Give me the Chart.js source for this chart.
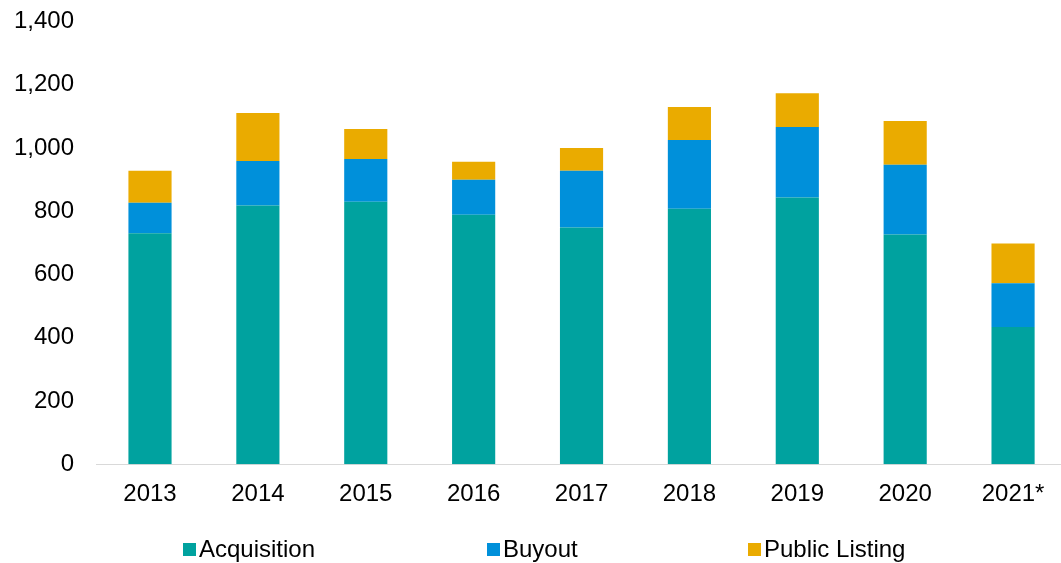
<!DOCTYPE html>
<html>
<head>
<meta charset="utf-8">
<script src="https://cdn.jsdelivr.net/npm/chart.js@4"></script>
<style>
  html, body { margin: 0; padding: 0; background: #ffffff; }
  .wrap { position: relative; width: 1061px; height: 563px; overflow: hidden; }
  #dealChart { position: absolute; left: 0; top: -15px; }
  .legend {
    position: absolute; left: 0; top: 535px; width: 1061px; height: 28px;
    font-family: "Liberation Sans", Arial, sans-serif; font-size: 24px; color: #000;
  }
  .legend span { position: absolute; top: 0; display: flex; align-items: center; white-space: nowrap; line-height: 28px; }
  .legend i { display: inline-block; width: 13px; height: 13px; margin-right: 3px; }
</style>
</head>
<body>
<div class="wrap">
  <canvas id="dealChart" width="1067" height="563"></canvas>
  <div class="legend" id="legend"></div>
</div>
<script>
// 연도
const years = ["2013", "2014", "2015", "2016", "2017", "2018", "2019", "2020", "2021*"];

// 유형별 건수
const acquisition = [730, 818, 830, 789, 748, 808, 843, 726, 434];
const buyout = [97, 141, 135, 110, 180, 217, 223, 221, 138];
const publicListing = [101, 151, 95, 57, 72, 104, 107, 138, 126];

const seriesNames = ["Acquisition", "Buyout", "Public Listing"];
const seriesColors = ["#00A29F", "#0090DA", "#EAAB00"];

const yTicks = [0, 200, 400, 600, 800, 1000, 1200, 1400];

const FONT = "'Liberation Sans', Arial, sans-serif";

function createDealChart() {
  const ctx = document.getElementById("dealChart");
  const values = [acquisition, buyout, publicListing];

  new Chart(ctx, {
    type: "bar",
    data: {
      labels: years,
      datasets: seriesNames.map((name, i) => ({
        label: name,
        data: values[i],
        backgroundColor: seriesColors[i],
        borderWidth: 0,
        barPercentage: 0.4,
        categoryPercentage: 1.0
      }))
    },
    options: {
      responsive: false,
      animation: false,
      layout: {
        padding: { top: 0, left: -8, right: 0, bottom: 23 }
      },
      plugins: {
        legend: { display: false },
        tooltip: { enabled: false }
      },
      scales: {
        x: {
          stacked: true,
          grid: { display: false, drawTicks: false },
          border: { display: true, color: "#d9d9d9", width: 1 },
          ticks: {
            color: "#000",
            padding: 16,
            maxRotation: 0,
            font: { family: FONT, size: 24 }
          }
        },
        y: {
          stacked: true,
          min: yTicks[0],
          max: yTicks[yTicks.length - 1],
          afterBuildTicks: (axis) => {
            axis.ticks = yTicks.map((v) => ({ value: v }));
          },
          grid: { display: false, drawTicks: false },
          border: { display: false },
          ticks: {
            color: "#000",
            padding: 22,
            font: { family: FONT, size: 24 },
            callback: (v) => v.toLocaleString("en-US")
          }
        }
      }
    }
  });
}

// 범례는 HTML로 그림
function renderLegend() {
  const box = document.getElementById("legend");
  const lefts = [183, 487, 748];
  seriesNames.forEach((name, i) => {
    const item = document.createElement("span");
    item.style.left = lefts[i] + "px";
    item.innerHTML = `<i style="background:${seriesColors[i]}"></i>${name}`;
    box.appendChild(item);
  });
}

window.addEventListener("DOMContentLoaded", () => {
  createDealChart();
  renderLegend();
});
</script>
</body>
</html>
